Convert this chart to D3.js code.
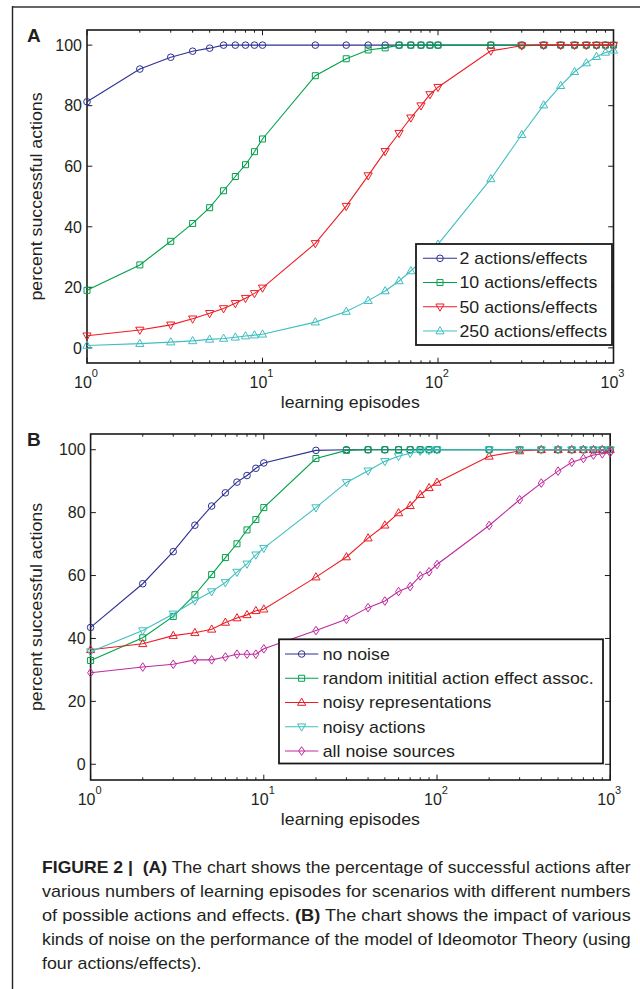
<!DOCTYPE html>
<html>
<head>
<meta charset="utf-8">
<script src="https://cdn.jsdelivr.net/npm/d3@7"></script>
<style>
  body { margin: 0; background: #fff; }
  svg { display: block; }
  text { font-family: "Liberation Sans", Arial, Helvetica, sans-serif; fill: #231f20; }
</style>
</head>
<body>
<svg id="chart" width="640" height="989"></svg>
<script>
// ---------------- DATA ----------------
const episodes = [1,2,3,4,5,6,7,8,9,10,20,30,40,50,60,70,80,90,100,200,300,400,500,600,700,800,900,1000];

// Panel A: number of possible actions/effects
const namesA = ["2 actions/effects", "10 actions/effects", "50 actions/effects", "250 actions/effects"];
const a2   = [81.3,92.1,96.0,98.0,99.0,100,100,100,100,100, 100,100,100,100,100,100,100,100,100, 100,100,100,100,100,100,100,100,100];
const a10  = [19.0,27.4,35.2,41.1,46.3,51.9,56.6,60.5,64.8,69.0, 89.9,95.5,98.4,99.1,100,100,100,100,100, 100,100,100,100,100,100,100,100,100];
const a50  = [4.0,5.9,7.6,9.6,11.4,13.0,14.7,16.4,18.0,19.8, 34.5,46.8,56.9,64.9,70.9,76.0,80.0,83.7,86.1, 98.1,99.8,100,100,100,100,100,100,100];
const a250 = [0.8,1.4,1.9,2.3,2.8,3.1,3.5,3.9,4.2,4.5, 8.5,12.0,15.6,18.8,22.1,25.4,28.5,31.5,34.2, 55.8,70.4,80.2,86.6,91.2,94.1,96.2,97.6,98.3];

// Panel B: noise sources
const namesB = ["no noise", "random inititial action effect assoc.", "noisy representations", "noisy actions", "all noise sources"];
const bNone    = [43.5,57.4,67.6,76.0,82.1,86.3,89.7,91.8,94.1,95.8, 99.8,100,100,100,100,100,100,100,100, 100,100,100,100,100,100,100,100,100];
const bRandom  = [33.0,40.2,47.0,53.9,60.3,65.7,70.1,74.5,77.8,81.6, 97.2,99.8,100,100,100,100,100,100,100, 100,100,100,100,100,100,100,100,100];
const bRepr    = [36.4,38.3,40.9,41.8,42.9,45.1,46.5,47.5,48.8,49.3, 59.5,65.9,71.9,76.0,79.9,82.2,85.7,87.9,89.6, 97.9,99.6,100,100,100,100,100,100,100];
const bActions = [35.8,42.5,47.8,52.0,54.9,57.8,61.1,63.7,66.6,68.7, 81.6,89.6,93.3,96.3,97.9,98.9,99.6,99.8,100, 100,100,100,100,100,100,100,100,100];
const bAll     = [29.1,30.9,31.8,33.2,33.2,34.1,35.0,35.0,35.0,36.7, 42.5,46.1,49.8,51.9,54.9,56.5,59.9,61.2,63.5, 75.9,84.1,89.4,93.2,96.0,97.2,98.3,98.7,99.1];

const yTicks = [0, 20, 40, 60, 80, 100];
const xTickExponents = [0, 1, 2, 3];
const yLabel = "percent successful actions";
const xLabel = "learning episodes";

const captionLines = [
  [["FIGURE 2 |\u00a0 (A)", true], [" The chart shows the percentage of successful actions after", false]],
  [["various numbers of learning episodes for scenarios with different numbers", false]],
  [["of possible actions and effects. ", false], ["(B)", true], [" The chart shows the impact of various", false]],
  [["kinds of noise on the performance of the model of Ideomotor Theory (using", false]],
  [["four actions/effects).", false]]
];

// ---------------- STYLE / LAYOUT ----------------
const C = { blue: "#2e3192", green: "#00a14b", red: "#ed1c24", cyan: "#3fbfbf", magenta: "#bf2a9e" };
const STRETCH = 1.11;

const markerShapes = {
  circle:  "M3.3,0A3.3,3.3 0 1,1 -3.3,0A3.3,3.3 0 1,1 3.3,0Z",
  square:  "M-3,-3H3V3H-3Z",
  triUp:   "M0,-4.4L4.1,2.8L-4.1,2.8Z",
  triDown: "M0,4.4L4.1,-2.8L-4.1,-2.8Z",
  diamond: "M0,-4.3L3,0L0,4.3L-3,0Z"
};

const panels = [
  {
    letter: "A", L: 87, R: 613.5, T: 30, B: 363,
    series: [
      { name: namesA[0], values: a2,   color: C.blue,  marker: "circle" },
      { name: namesA[1], values: a10,  color: C.green, marker: "square" },
      { name: namesA[2], values: a50,  color: C.red,   marker: "triDown" },
      { name: namesA[3], values: a250, color: C.cyan,  marker: "triUp" }
    ],
    legend: { x0: 416, x1: 612, y0: 244, y1: 345, row0: 258.3, dy: 24.25, lx0: 423, lx1: 457, tx: 459.5 }
  },
  {
    letter: "B", L: 90.6, R: 610.2, T: 434, B: 780,
    series: [
      { name: namesB[0], values: bNone,    color: C.blue,    marker: "circle" },
      { name: namesB[1], values: bRandom,  color: C.green,   marker: "square" },
      { name: namesB[2], values: bRepr,    color: C.red,     marker: "triUp" },
      { name: namesB[3], values: bActions, color: C.cyan,    marker: "triDown" },
      { name: namesB[4], values: bAll,     color: C.magenta, marker: "diamond" }
    ],
    legend: { x0: 279, x1: 603, y0: 639.3, y1: 763.5, row0: 654, dy: 24.25, lx0: 285, lx1: 318.3, tx: 322.7 }
  }
];

const svg = d3.select("#chart");

// frame of the figure
svg.append("line").attr("x1", 12).attr("x2", 640).attr("y1", 7).attr("y2", 7)
  .attr("stroke", "#666").attr("stroke-width", 2);
svg.append("line").attr("x1", 12.5).attr("x2", 12.5).attr("y1", 6).attr("y2", 989)
  .attr("stroke", "#222").attr("stroke-width", 1.4);

function stretchText(sel, f) {
  // horizontal stretch of text around its anchor to match the wider original typeface
  sel.each(function () {
    const t = d3.select(this);
    const base = t.attr("data-tf") || "";
    t.attr("transform", base + ` scale(${f},1)`);
  });
}

panels.forEach(p => {
  const x = d3.scaleLog().domain([1, 1000]).range([p.L, p.R]);
  const y = d3.scaleLinear().domain([-5, 105]).range([p.B, p.T]);
  const g = svg.append("g");

  // box
  g.append("rect").attr("x", p.L).attr("y", p.T).attr("width", p.R - p.L).attr("height", p.B - p.T)
    .attr("fill", "none").attr("stroke", "#1a1a1a").attr("stroke-width", 1.6);

  // y ticks (inward, left and right)
  const yt = g.append("g");
  yTicks.forEach(v => {
    yt.append("line").attr("x1", p.L).attr("x2", p.L + 5.3).attr("y1", y(v)).attr("y2", y(v)).attr("stroke", "#1a1a1a").attr("stroke-width", 1);
    yt.append("line").attr("x1", p.R).attr("x2", p.R - 5.3).attr("y1", y(v)).attr("y2", y(v)).attr("stroke", "#1a1a1a").attr("stroke-width", 1);
    yt.append("text").attr("x", p.L - 5).attr("y", y(v)).attr("dy", "0.36em")
      .attr("text-anchor", "end").attr("font-size", 16).text(v);
  });

  // x ticks: major and minor (log), inward on bottom and top
  const majors = x.ticks().filter(v => Math.abs(Math.log10(v) - Math.round(Math.log10(v))) < 1e-9);
  const all = x.ticks();
  all.forEach(v => {
    const isMajor = majors.includes(v);
    const len = isMajor ? 5.3 : 2.7;
    g.append("line").attr("x1", x(v)).attr("x2", x(v)).attr("y1", p.B).attr("y2", p.B - len).attr("stroke", "#1a1a1a").attr("stroke-width", 1);
    g.append("line").attr("x1", x(v)).attr("x2", x(v)).attr("y1", p.T).attr("y2", p.T + len).attr("stroke", "#1a1a1a").attr("stroke-width", 1);
  });
  xTickExponents.forEach(e => {
    const t = g.append("text").attr("x", x(Math.pow(10, e)) - 1).attr("y", p.B + 25)
      .attr("text-anchor", "middle").attr("font-size", 16);
    t.append("tspan").text("10");
    t.append("tspan").attr("dy", -11).attr("font-size", 11).text(e);
  });

  // axis labels
  const xl = g.append("text").attr("data-tf", `translate(${(p.L + p.R) / 2},${p.B + 45})`)
    .attr("text-anchor", "middle").attr("font-size", 16).text(xLabel);
  stretchText(xl, STRETCH);
  const yl = g.append("text").attr("data-tf", `translate(42,${(p.T + p.B) / 2}) rotate(-90)`)
    .attr("text-anchor", "middle").attr("font-size", 16).text(yLabel);
  stretchText(yl, STRETCH);

  // panel letter
  g.append("text").attr("x", 27).attr("y", p.T + 12).attr("font-size", 19).attr("font-weight", "bold").text(p.letter);

  // series
  const line = d3.line().x(d => x(d[0])).y(d => y(d[1]));
  p.series.forEach(s => {
    const pts = episodes.map((e, i) => [e, s.values[i]]);
    const sg = g.append("g");
    sg.append("path").attr("d", line(pts)).attr("fill", "none").attr("stroke", s.color).attr("stroke-width", 1.1);
    sg.selectAll("path.m").data(pts).enter().append("path").attr("class", "m")
      .attr("d", markerShapes[s.marker])
      .attr("transform", d => `translate(${x(d[0])},${y(d[1])})`)
      .attr("fill", "none").attr("stroke", s.color).attr("stroke-width", 1);
  });

  // legend
  const lg = p.legend;
  const leg = g.append("g");
  leg.append("rect").attr("x", lg.x0).attr("y", lg.y0).attr("width", lg.x1 - lg.x0).attr("height", lg.y1 - lg.y0)
    .attr("fill", "#fff").attr("stroke", "#1a1a1a").attr("stroke-width", 1.8);
  p.series.forEach((s, i) => {
    const ry = lg.row0 + i * lg.dy;
    leg.append("line").attr("x1", lg.lx0).attr("x2", lg.lx1).attr("y1", ry).attr("y2", ry)
      .attr("stroke", s.color).attr("stroke-width", 1.1);
    leg.append("path").attr("d", markerShapes[s.marker])
      .attr("transform", `translate(${(lg.lx0 + lg.lx1) / 2},${ry})`)
      .attr("fill", "none").attr("stroke", s.color).attr("stroke-width", 1);
    const t = leg.append("text").attr("data-tf", `translate(${lg.tx},${ry})`)
      .attr("dy", "0.36em").attr("font-size", 16).text(s.name);
    stretchText(t, STRETCH);
  });
});

// caption
const capX = 42, capRight = 631, capY0 = 873, capDy = 24;
captionLines.forEach((segs, i) => {
  const t = svg.append("text").attr("font-size", 16).attr("x", 0).attr("y", 0);
  segs.forEach(s => t.append("tspan").attr("font-weight", s[1] ? "bold" : "normal").text(s[0]));
  const w = t.node().getComputedTextLength();
  const f = (i < captionLines.length - 1) ? (capRight - capX) / w : STRETCH;
  t.attr("transform", `translate(${capX},${capY0 + i * capDy}) scale(${f},1)`);
});
</script>
</body>
</html>
